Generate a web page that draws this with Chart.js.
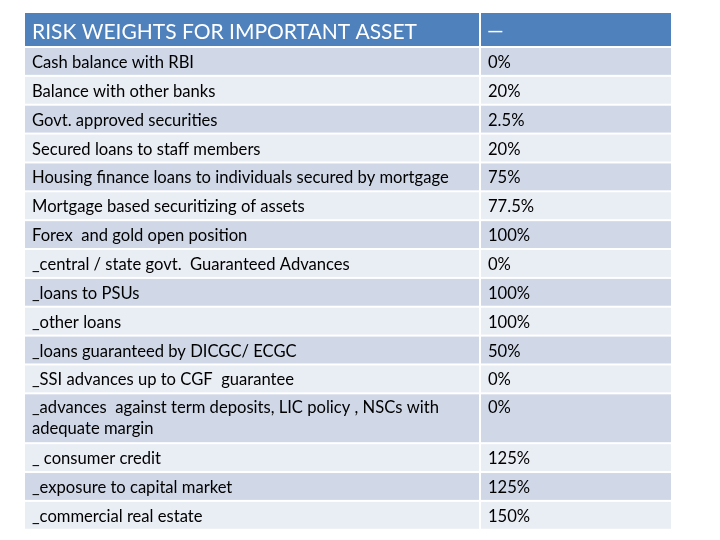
<!DOCTYPE html>
<html>
<head>
<meta charset="utf-8">
<title>Risk weights</title>
<script src="https://cdn.jsdelivr.net/npm/chart.js@4"></script>
<style>
  html, body { margin: 0; padding: 0; background: #fff; }
  #wrap { width: 720px; height: 540px; position: relative; }
</style>
</head>
<body>
<div id="wrap"><canvas id="chart"></canvas></div>
<script>
// Table data: one entry per row, "\n" marks a wrapped line.
const headerLeft = "RISK WEIGHTS FOR IMPORTANT ASSET";
const headerRight = "\u2014";
const assets = [
  "Cash balance with RBI",
  "Balance with other banks",
  "Govt. approved securities",
  "Secured loans to staff members",
  "Housing finance loans to individuals secured by mortgage",
  "Mortgage based securitizing of assets",
  "Forex  and gold open position",
  "_central / state govt.  Guaranteed Advances",
  "_loans to PSUs",
  "_other loans",
  "_loans guaranteed by DICGC/ ECGC",
  "_SSI advances up to CGF  guarantee",
  "_advances  against term deposits, LIC policy , NSCs with\nadequate margin",
  "_ consumer credit",
  "_exposure to capital market",
  "_commercial real estate",
];
const weights = [0, 20, 2.5, 20, 75, 77.5, 100, 0, 100, 100, 50, 0, 0, 125, 125, 150];

// layout (canvas pixels, mapped through the hidden linear scales)
const TABLE_L = 25, TABLE_R = 671, SPLIT_L = 479, SPLIT_R = 481;
const HEAD_TOP = 13, HEAD_H = 33, GAP = 2;
const ROW_H = 26.86, LINE_H = 21;
const PAD_X = 7, BASE_Y = 20, HEAD_BASE = 25.5;
const HEAD_BG = "#4f81bd", ROW_DARK = "#d0d8e8", ROW_LIGHT = "#e9edf4";
const BODY_FONT = "16.6px Lato, 'Open Sans', sans-serif";
const HEAD_FONT = "21px Lato, 'Open Sans', sans-serif";

const tablePlugin = {
  id: "tableCells",
  beforeDatasetsDraw(chart) {
    const ctx = chart.ctx;
    const x = chart.scales.x, y = chart.scales.y;
    const px = (v) => x.getPixelForValue(v);
    const py = (v) => y.getPixelForValue(v);

    function cell(l, r, t, b, color) {
      ctx.fillStyle = color;
      ctx.fillRect(px(l), py(t), px(r) - px(l), py(b) - py(t));
    }

    ctx.save();
    // header
    const hb = HEAD_TOP + HEAD_H;
    cell(TABLE_L, SPLIT_L, HEAD_TOP, hb, HEAD_BG);
    cell(SPLIT_R, TABLE_R, HEAD_TOP, hb, HEAD_BG);
    ctx.fillStyle = "#fff";
    ctx.font = HEAD_FONT;
    ctx.textBaseline = "alphabetic";
    ctx.fillText(headerLeft, px(TABLE_L + PAD_X), py(HEAD_TOP + HEAD_BASE));
    ctx.fillText(headerRight, px(SPLIT_R + PAD_X - 1), py(HEAD_TOP + HEAD_BASE - 1));

    // body rows
    let top = hb + GAP;
    ctx.font = BODY_FONT;
    assets.forEach((label, i) => {
      const lines = label.split("\n");
      const h = ROW_H + (lines.length - 1) * LINE_H;
      const bg = i % 2 === 0 ? ROW_DARK : ROW_LIGHT;
      cell(TABLE_L, SPLIT_L, top, top + h, bg);
      cell(SPLIT_R, TABLE_R, top, top + h, bg);
      ctx.fillStyle = "#000";
      const base = lines.length > 1 ? 19 : BASE_Y;
      lines.forEach((ln, k) => {
        ctx.fillText(ln, px(TABLE_L + PAD_X), py(top + base + k * LINE_H));
      });
      ctx.fillText(weights[i] + "%", px(SPLIT_R + PAD_X), py(top + base));
      top += h + GAP;
    });
    ctx.restore();
  },
};

new Chart(document.getElementById("chart"), {
  type: "bar",
  data: { labels: assets, datasets: [] },
  options: {
    responsive: true,
    maintainAspectRatio: false,
    animation: false,
    layout: { padding: 0 },
    plugins: { legend: { display: false }, tooltip: { enabled: false } },
    scales: {
      x: { type: "linear", min: 0, max: 720, offset: false, display: false },
      y: { type: "linear", min: 0, max: 540, reverse: true, offset: false, display: false },
    },
  },
  plugins: [tablePlugin],
});
</script>
</body>
</html>
